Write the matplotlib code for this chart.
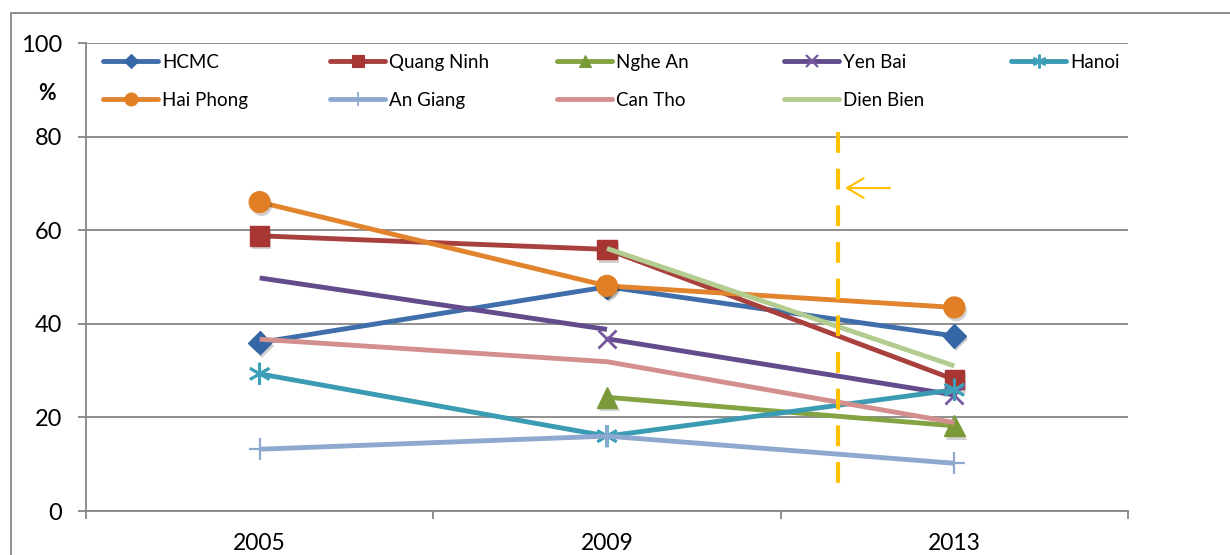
import numpy as np
import matplotlib
matplotlib.use("Agg")
import matplotlib.pyplot as plt
from matplotlib.lines import Line2D
from matplotlib.patches import Rectangle
import matplotlib.patheffects as pe

plt.rcParams['font.family'] = ['Lato', 'DejaVu Sans']

# ---- data -------------------------------------------------------------
years = ['2005', '2009', '2013']
nan = np.nan
hcmc = [36.0, 47.9, 37.4]
quang_ninh = [58.8, 55.9, 28.1]
nghe_an = [nan, 24.3, 18.2]
yen_bai = [nan, 36.8, 24.8]
yen_bai_2005_link = [49.8, 38.8, nan]
hanoi = [29.3, 16.0, 25.9]
hai_phong = [66.0, 48.1, 43.5]
an_giang = [13.2, 16.0, 10.2]
can_tho = [36.7, 31.9, 18.9]
dien_bien = [nan, 56.1, 31.0]
y_ticks = [0, 20, 40, 60, 80, 100]

# ---- figure geometry (pixels) -----------------------------------------
W, H = 1230, 555
fig = plt.figure(figsize=(W / 100, H / 100), dpi=100)
fig.patch.set_facecolor('white')
ax = fig.add_axes([86 / W, 44 / H, 1042 / W, 468 / H])

GRID = '#868686'
x = np.arange(len(years))

# label, values, line colour, marker, marker size, marker colour, marker edge width
series = [
    ('HCMC', hcmc, '#3F6EAA', 'D', 12, '#3566A6', 1.0),
    ('Quang Ninh', quang_ninh, '#A8413E', 's', 14, '#A73532', 1.0),
    ('Nghe An', nghe_an, '#84A343', '^', 15, '#7A9A3A', 1.0),
    ('Yen Bai', yen_bai, '#624C8C', 'x', 13, '#7658A0', 2.0),
    ('Hanoi', hanoi, '#3A9BB2', (6, 2, 0), 16, '#3FA0BA', 2.0),
    ('Hai Phong', hai_phong, '#E2832E', 'o', 15, '#E07F25', 1.0),
    ('An Giang', an_giang, '#8FA8D0', '+', 16, '#8FA8D0', 1.6),
    ('Can Tho', can_tho, '#D38F8E', None, 0, '#D38F8E', 1.0),
    ('Dien Bien', dien_bien, '#B3CC8F', None, 0, '#B3CC8F', 1.0),
]

shadow = [pe.SimplePatchShadow(offset=(1.5, -2.5), shadow_rgbFace='black', alpha=0.18),
          pe.Normal()]

for i, (label, vals, col, mk, ms, mcol, mew) in enumerate(series):
    z = 3 + i
    if label == 'Yen Bai':
        ax.plot(x, yen_bai_2005_link, color=col, lw=3.5, zorder=z,
                solid_capstyle='butt')
    ax.plot(x, vals, color=col, lw=3.5, zorder=z, solid_capstyle='butt')
    if mk is not None:
        ax.plot(x, vals, ls='none', marker=mk, ms=ms, color=mcol, mec=mcol,
                mfc=mcol, mew=mew, zorder=z + 0.5, path_effects=shadow)

# dashed cut-off line and arrow
ax.plot([1.665, 1.665], [81.05, 4.9], color='#FFC000', lw=3,
        dashes=(5, 3.8), solid_capstyle='butt', dash_capstyle='butt', zorder=20)
ax.annotate('', xy=(1.685, 69.0), xytext=(1.815, 69.0),
            arrowprops=dict(arrowstyle='->, head_length=0.6, head_width=0.35',
                            color='#FFC000', lw=1.5, mutation_scale=20,
                            shrinkA=0, shrinkB=0), zorder=20)

# ---- axes styling -----------------------------------------------------
ax.set_xlim(-0.5, 2.5)
ax.set_ylim(0, 100)
ax.set_yticks(y_ticks)
ax.set_yticklabels([str(v) for v in y_ticks], fontsize=17)
ax.set_xticks([-0.5, 0.5, 1.5, 2.5])
ax.set_xticklabels([])
ax.set_xticks(x, minor=True)
ax.set_xticklabels(years, minor=True, fontsize=16.5)
ax.tick_params(axis='x', which='major', direction='out', length=5.8,
               width=1.3, color=GRID)
ax.tick_params(axis='x', which='minor', length=0, pad=16)
ax.tick_params(axis='y', direction='out', length=5.8, width=1.3, color=GRID,
               pad=11.5)
ax.yaxis.grid(True, color=GRID, lw=1.3)
ax.set_axisbelow(True)
for s in ('top', 'right'):
    ax.spines[s].set_visible(False)
for s in ('left', 'bottom'):
    ax.spines[s].set_color(GRID)
    ax.spines[s].set_linewidth(1.3)

fig.text(47 / W, 1 - 93 / H, '%', fontsize=15.5, fontweight='bold',
         ha='center', va='center')

# ---- legend (two rows, five fixed-width columns) -----------------------
for i, (label, vals, col, mk, ms, mcol, mew) in enumerate(series):
    row, c = divmod(i, 5)
    x0 = 103 + 227 * c
    yy = 1 - (61 + 38 * row) / H
    fig.add_artist(Line2D([x0 / W, (x0 + 55) / W], [yy, yy],
                          transform=fig.transFigure, color=col, lw=3.5,
                          solid_capstyle='round'))
    if mk is not None:
        fig.add_artist(Line2D([(x0 + 27.5) / W], [yy], transform=fig.transFigure,
                              ls='none', marker=mk, ms=ms * 0.62, color=mcol,
                              mfc=mcol, mec=mcol, mew=mew * 0.8))
    fig.text((x0 + 59) / W, yy, label, fontsize=13.5, ha='left',
             va='center_baseline')

# outer chart frame
fig.add_artist(Rectangle((11 / W, -0.1), 1.2, (H - 13) / H + 0.1,
                         transform=fig.transFigure, fill=False, ec=GRID,
                         lw=1.3, clip_on=False))

fig.savefig('out.png', dpi=100)
